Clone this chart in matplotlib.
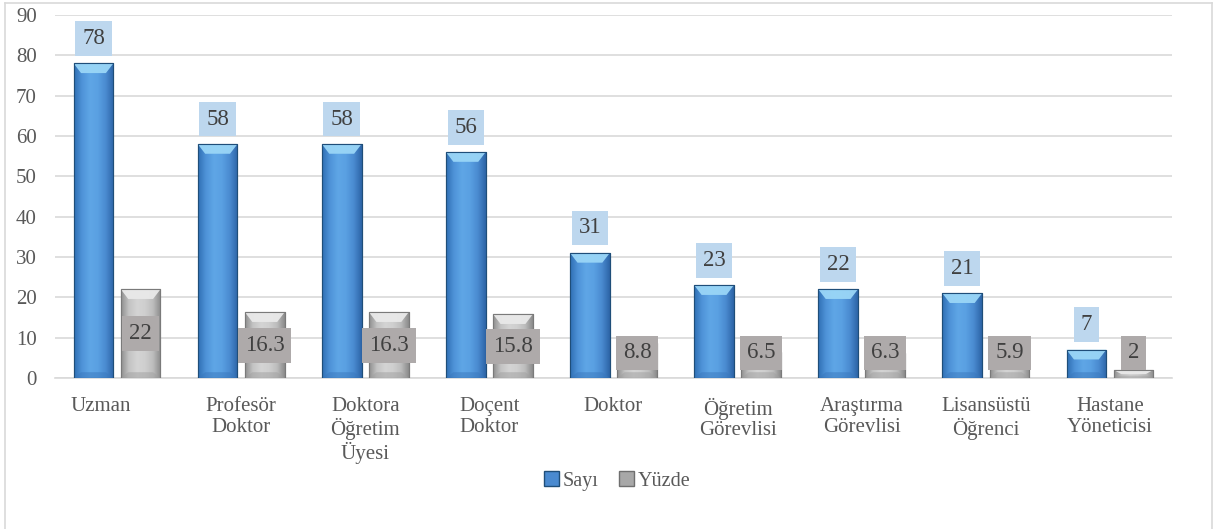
import matplotlib
matplotlib.use("Agg")
import matplotlib.pyplot as plt
import numpy as np
from matplotlib.patches import Patch, Polygon
from matplotlib.lines import Line2D
from matplotlib.colors import LinearSegmentedColormap
from matplotlib.transforms import ScaledTranslation

categories = ["Uzman", "Profesör\nDoktor", "Doktora\nÖğretim\nÜyesi", "Doçent\nDoktor",
              "Doktor", "Öğretim\nGörevlisi", "Araştırma\nGörevlisi", "Lisansüstü\nÖğrenci",
              "Hastane\nYöneticisi"]
sayi = [78, 58, 58, 56, 31, 23, 22, 21, 7]
yuzde = [22, 16.3, 16.3, 15.8, 8.8, 6.5, 6.3, 5.9, 2]
sayi_labels = ["78", "58", "58", "56", "31", "23", "22", "21", "7"]
yuzde_labels = ["22", "16.3", "16.3", "15.8", "8.8", "6.5", "6.3", "5.9", "2"]
yticks = [0, 10, 20, 30, 40, 50, 60, 70, 80, 90]

plt.rcParams['font.family'] = ['Liberation Serif', 'DejaVu Serif']
TXT = "#595959"

fig = plt.figure(figsize=(12.15, 5.29), dpi=100)
ax = fig.add_axes([55/1215, 1-378/529, (1172-55)/1215, (378-15)/529])

x = np.arange(len(categories))
w = 0.32
off = 0.19

blue_cmap = LinearSegmentedColormap.from_list("b", ["#2f6fb3", "#4f93d8", "#5fa6e6", "#5aa0e2", "#4a8ad0", "#2c64a6"])
gray_cmap = LinearSegmentedColormap.from_list("g", ["#8e8e8e", "#c4c4c4", "#d4d4d4", "#cfcfcf", "#bdbdbd", "#8a8a8a"])

bars_b = ax.bar(x - off, sayi, w, color="#5b9bd5", edgecolor="#1f4e79", linewidth=0.8, zorder=3)
bars_g = ax.bar(x + off, yuzde, w, color="#c0c0c0", edgecolor="#7a7a7a", linewidth=0.8, zorder=3)

grad = np.linspace(0, 1, 256).reshape(1, -1)

def decorate(bars, cmap, topc, botc):
    for b in bars:
        x0, y0 = b.get_x(), b.get_y()
        bw, bh = b.get_width(), b.get_height()
        im = ax.imshow(grad, cmap=cmap, extent=[x0, x0 + bw, y0, y0 + bh],
                       aspect='auto', zorder=3.1, interpolation='bicubic')
        im.set_clip_path(b)
        bev = min(2.4, bh / 2)
        ins = min(0.06, bw / 2)
        top = y0 + bh
        ax.add_patch(Polygon([(x0, top), (x0 + bw, top), (x0 + bw - ins, top - bev),
                              (x0 + ins, top - bev)], closed=True, facecolor=topc,
                             edgecolor='none', zorder=3.2, alpha=0.95))
        ax.add_patch(Polygon([(x0, y0), (x0 + bw, y0), (x0 + bw - ins, y0 + bev * 0.6),
                              (x0 + ins, y0 + bev * 0.6)], closed=True, facecolor=botc,
                             edgecolor='none', zorder=3.2, alpha=0.5))
        ax.add_patch(plt.Rectangle((x0, y0), bw, bh, fill=False, edgecolor=b.get_edgecolor(),
                                   linewidth=0.8, zorder=3.3))

decorate(bars_b, blue_cmap, "#9ad6f7", "#3a78bd")
decorate(bars_g, gray_cmap, "#e9e9e9", "#a0a0a0")

ax.set_xlim(-0.5, len(categories) - 0.5)
ax.set_ylim(0, 90)
ax.set_yticks(yticks)
ax.yaxis.grid(True, color="#d9d9d9", linewidth=1.2, zorder=0)
ax.set_axisbelow(True)
for s in ["left", "right", "top"]:
    ax.spines[s].set_visible(False)
ax.spines["bottom"].set_color("#d9d9d9")
ax.spines["bottom"].set_linewidth(1.2)
ax.tick_params(axis='y', length=0, pad=13, labelsize=15, labelcolor=TXT)
ax.tick_params(axis='x', length=0, pad=14, labelsize=15, labelcolor=TXT)
ax.set_xticks(x)
ax.set_xticklabels(categories, linespacing=1.1, va='top')
lab0 = ax.get_xticklabels()[0]
lab0.set_transform(lab0.get_transform() + ScaledTranslation(-0.16, 0, fig.dpi_scale_trans))

for xi, v, lab in zip(x, sayi, sayi_labels):
    ax.text(xi - off, v + 6.2, lab, ha='center', va='center', fontsize=16.5, color="#404040",
            zorder=5, bbox=dict(boxstyle='square,pad=0.3', facecolor="#bdd7ee", edgecolor='none'))
for xi, v, lab in zip(x, yuzde, yuzde_labels):
    ax.text(xi + off, max(v / 2, 6.2), lab, ha='center', va='center', fontsize=16.5, color="#404040",
            zorder=5, bbox=dict(boxstyle='square,pad=0.3', facecolor="#aeaaaa", edgecolor='none'))

handles = [Patch(facecolor="#4a8ad0", edgecolor="#1f4e79", label="Sayı"),
           Patch(facecolor="#a8a8a8", edgecolor="#6f6f6f", label="Yüzde")]
fig.legend(handles=handles, loc='center', bbox_to_anchor=(0.508, 1 - 481/529), ncol=2,
           frameon=False, fontsize=14.5, labelcolor=TXT, handlelength=0.75, handleheight=0.75,
           handletextpad=0.2, columnspacing=1.0)

bc = "#d9d9d9"
fig.add_artist(Line2D([5/1215, 5/1215], [0, 1 - 3/529], color=bc, lw=1.2, transform=fig.transFigure))
fig.add_artist(Line2D([5/1215, 1212/1215], [1 - 3/529, 1 - 3/529], color=bc, lw=1.2, transform=fig.transFigure))
fig.add_artist(Line2D([1212/1215, 1212/1215], [0, 1 - 3/529], color=bc, lw=1.2, transform=fig.transFigure))

fig.savefig("out.png", dpi=100)
